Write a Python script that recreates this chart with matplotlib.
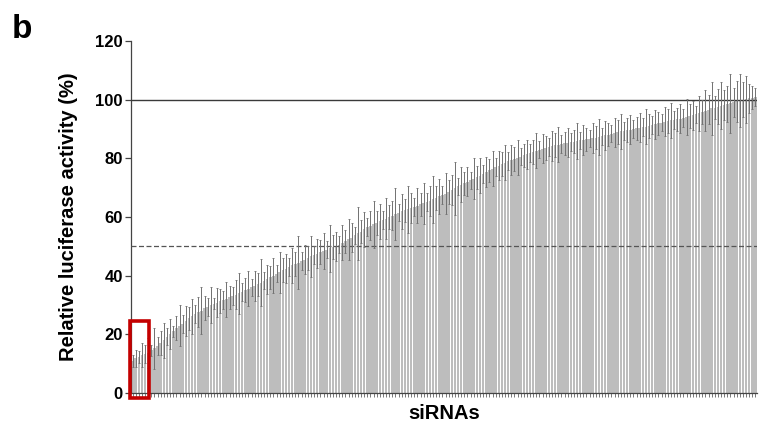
import matplotlib
matplotlib.use('Agg')
import matplotlib.pyplot as plt
from matplotlib.patches import Rectangle

plt.rcParams['font.family'] = ['Liberation Sans', 'DejaVu Sans']
plt.rcParams['font.weight'] = 'bold'

# relative luciferase activity (%) per siRNA, sorted ascending
activity = [
    11.0, 11.8, 12.3, 12.9, 13.2, 13.6, 14.5, 15.2, 16.1, 17.0,
    18.0, 19.2, 20.1, 21.0, 22.1, 23.0, 23.6, 24.5, 25.4, 26.2,
    27.0, 27.6, 28.1, 28.9, 29.4, 30.0, 30.5, 30.8, 31.3, 31.7,
    32.0, 32.6, 33.0, 33.5, 34.0, 34.5, 35.1, 35.6, 36.0, 36.5,
    37.0, 37.6, 38.3, 38.8, 39.4, 40.0, 40.7, 41.2, 41.9, 42.4,
    43.0, 43.5, 44.0, 44.4, 45.0, 45.5, 46.0, 46.6, 47.1, 47.5,
    48.0, 48.4, 48.9, 49.3, 49.7, 50.0, 50.6, 51.2, 51.7, 52.4,
    53.0, 53.7, 54.4, 55.0, 55.8, 56.5, 57.0, 57.5, 58.0, 58.5,
    59.0, 59.4, 60.0, 60.5, 61.0, 61.5, 61.9, 62.3, 62.7, 63.1,
    63.5, 63.9, 64.3, 64.7, 65.1, 65.5, 66.0, 66.5, 67.0, 67.5,
    68.0, 68.6, 69.2, 69.8, 70.4, 71.0, 71.5, 72.0, 72.5, 73.0,
    73.5, 74.1, 74.7, 75.3, 75.9, 76.5, 77.0, 77.5, 78.0, 78.5,
    79.0, 79.4, 79.8, 80.2, 80.6, 81.0, 81.4, 81.8, 82.2, 82.6,
    83.0, 83.3, 83.6, 83.9, 84.2, 84.5, 84.7, 84.9, 85.1, 85.3,
    85.5, 85.7, 85.9, 86.1, 86.3, 86.5, 86.7, 86.9, 87.1, 87.3,
    87.5, 87.8, 88.1, 88.4, 88.7, 89.0, 89.2, 89.4, 89.6, 89.8,
    90.0, 90.2, 90.4, 90.6, 90.8, 91.0, 91.3, 91.6, 91.9, 92.2,
    92.5, 92.7, 92.9, 93.1, 93.3, 93.5, 93.8, 94.1, 94.4, 94.7,
    95.0, 95.4, 95.8, 96.2, 96.6, 97.0, 97.3, 97.6, 97.9, 98.2,
    98.5, 98.8, 99.1, 99.4, 99.7, 100.0, 100.2, 100.5, 100.7, 101.0,
]

# standard deviation per siRNA
errors = [
    2, 3, 2, 4, 3, 5, 2, 7, 3, 4,
    6, 3, 5, 2, 4, 7, 3, 5, 4, 6,
    3, 5, 8, 4, 3, 6, 2, 5, 4, 3,
    6, 4, 3, 5, 7, 3, 4, 6, 3, 5,
    4, 8, 3, 5, 4, 6, 3, 7, 4, 5,
    3, 6, 4, 9, 3, 5, 4, 7, 3, 5,
    4, 6, 3, 8, 4, 5, 3, 6, 4, 7,
    5, 3, 9, 4, 6, 3, 5, 8, 4, 6,
    3, 7, 4, 5, 9, 3, 6, 4, 8, 5,
    3, 6, 4, 7, 3, 5, 8, 4, 6, 3,
    7, 4, 5, 9, 3, 6, 4, 5, 3, 7,
    4, 6, 3, 5, 4, 6, 3, 5, 4, 6,
    3, 5, 4, 6, 3, 4, 5, 3, 4, 6,
    3, 5, 4, 3, 5, 4, 6, 3, 4, 5,
    3, 4, 6, 3, 5, 4, 3, 5, 4, 6,
    3, 5, 4, 3, 5, 4, 6, 3, 4, 5,
    3, 4, 5, 3, 6, 4, 3, 5, 4, 3,
    5, 4, 6, 3, 4, 5, 3, 6, 4, 5,
    3, 6, 4, 7, 5, 9, 4, 6, 8, 5,
    6, 10, 5, 7, 9, 6, 8, 5, 4, 3,
]

highlight_n = 6

fig = plt.figure(figsize=(7.59, 4.23), dpi=100)
ax = fig.add_axes([0.1726, 0.0709, 0.8248, 0.8322])

x = list(range(len(activity)))
ax.bar(x, activity, width=0.8, color='#bdbdbd', edgecolor='none', zorder=2)
ax.errorbar(x, activity, yerr=errors, fmt='none', ecolor='#707070',
            elinewidth=0.7, capsize=0.8, capthick=0.6, zorder=4)

ax.axhline(100, color='#3a3a3a', lw=1.0, zorder=3)
ax.axhline(50, color='#555555', lw=0.9, ls=(0, (4, 2)), zorder=3)

# red box around the most potent siRNAs
ax.add_patch(Rectangle((-0.9, -1.6), highlight_n + 0.1, 26.1, fill=False,
                       edgecolor='#c40000', lw=2.6, clip_on=False, zorder=5))

ax.set_xlim(-0.5, len(activity) - 0.5)
ax.set_ylim(0, 120)
ax.set_yticks([0, 20, 40, 60, 80, 100, 120])
ax.set_xticks(x)
ax.set_xticklabels([])
ax.tick_params(axis='x', length=3, width=0.5, color='#444444')
ax.tick_params(axis='y', length=4, width=0.9, labelsize=12, color='#444444', pad=2)
for lab in ax.get_yticklabels():
    lab.set_fontweight('bold')

for s in ['top', 'right']:
    ax.spines[s].set_visible(False)
for s in ['left', 'bottom']:
    ax.spines[s].set_color('#444444')
    ax.spines[s].set_linewidth(0.9)

ax.set_ylabel('Relative luciferase activity (%)', fontsize=14.5, fontweight='bold', labelpad=12)
ax.set_xlabel('siRNAs', fontsize=14.5, fontweight='bold', labelpad=1.5)

fig.text(0.016, 0.91, 'b', fontsize=24, fontweight='bold')

fig.savefig('out.png', dpi=100)
